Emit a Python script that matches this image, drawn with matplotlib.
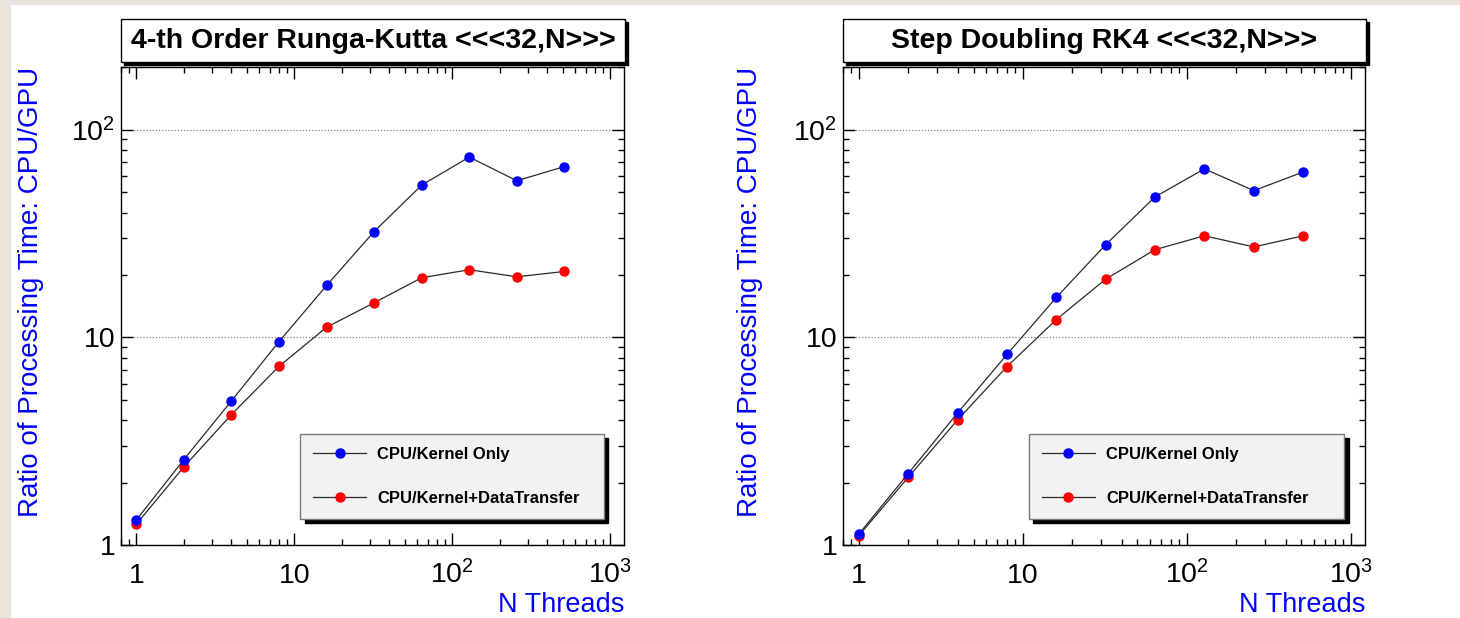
import matplotlib
matplotlib.use("Agg")
import matplotlib.pyplot as plt
from matplotlib.patches import Rectangle
from matplotlib.ticker import NullFormatter, LogLocator

plt.rcParams['font.family'] = ['Liberation Sans', 'DejaVu Sans']
plt.rcParams['mathtext.fontset'] = 'custom'
plt.rcParams['mathtext.rm'] = 'Liberation Sans'
plt.rcParams['mathtext.it'] = 'Liberation Sans:italic'

threads = [1, 2, 4, 8, 16, 32, 64, 128, 256, 512]
rk4_kernel = [1.32, 2.58, 4.95, 9.55, 17.8, 32.4, 54.2, 74.0, 56.9, 66.6]
rk4_transfer = [1.26, 2.38, 4.25, 7.26, 11.2, 14.7, 19.4, 21.2, 19.6, 20.8]
sd_kernel = [1.13, 2.21, 4.33, 8.28, 15.6, 28.0, 47.6, 64.9, 51.0, 62.7]
sd_transfer = [1.11, 2.12, 4.01, 7.24, 12.2, 19.1, 26.5, 30.9, 27.3, 30.9]

titles = ["4-th Order Runga-Kutta <<<32,N>>>", "Step Doubling RK4 <<<32,N>>>"]
series_names = ["CPU/Kernel Only", "CPU/Kernel+DataTransfer"]
xtick_vals = [1, 10, 100, 1000]
xtick_text = ['1', '10', r'$\mathregular{10^{2}}$', r'$\mathregular{10^{3}}$']
ytick_vals = [1, 10, 100]
ytick_text = ['1', '10', r'$\mathregular{10^{2}}$']

W, H = 1460, 618
fig = plt.figure(figsize=(W / 100, H / 100), dpi=100, facecolor='white')

# beige border strips
bg = '#e8e5df'
fig.patches.append(Rectangle((0, 0), 10 / W, 1, transform=fig.transFigure, color=bg, zorder=0))
fig.patches.append(Rectangle((0, 1 - 4 / H), 1, 4 / H, transform=fig.transFigure, color=bg, zorder=0))

# pixel boxes: (left, right) for axes; top/bottom shared
panels = [(121, 624), (843, 1365)]
ax_top, ax_bot = 67, 545
tbox_top, tbox_bot = 19, 62
data = [(rk4_kernel, rk4_transfer), (sd_kernel, sd_transfer)]

for (pl, pr), title, (kern, trans) in zip(panels, titles, data):
    ax = fig.add_axes([pl / W, (H - ax_bot) / H, (pr - pl) / W, (ax_bot - ax_top) / H])
    ax.set_xscale('log')
    ax.set_yscale('log')
    ax.set_xlim(0.8, 1220)
    ax.set_ylim(1, 201)

    ax.plot(threads, kern, '-o', color='#2a2a2a', lw=0.9, ms=6.5,
            mfc='#0000ff', mec='#0000ff', label=series_names[0], zorder=4)
    ax.plot(threads, trans, '-o', color='#2a2a2a', lw=0.9, ms=6.5,
            mfc='#ff0000', mec='#ff0000', label=series_names[1], zorder=3)

    ax.yaxis.grid(True, which='major', linestyle=(0, (1, 1.5)), color='#808080', lw=0.9)
    for s in ax.spines.values():
        s.set_linewidth(1.0)

    ax.xaxis.set_minor_locator(LogLocator(base=10, subs=range(2, 10)))
    ax.yaxis.set_minor_locator(LogLocator(base=10, subs=range(2, 10)))
    ax.xaxis.set_minor_formatter(NullFormatter())
    ax.yaxis.set_minor_formatter(NullFormatter())
    ax.tick_params(which='both', direction='in', top=True, right=True, width=1.0)
    ax.tick_params(which='major', length=8.5)
    ax.tick_params(which='minor', length=4.3)
    ax.tick_params(axis='x', which='major', labelsize=20.5, pad=27.4)
    ax.tick_params(axis='y', which='major', labelsize=20.5, pad=4)
    ax.set_xticks(xtick_vals)
    ax.set_xticklabels(xtick_text)
    ax.set_yticks(ytick_vals)
    ax.set_yticklabels(ytick_text)
    for lab in ax.get_xticklabels():
        lab.set_verticalalignment('baseline')

    ax.set_ylabel("Ratio of Processing Time: CPU/GPU", loc='top', color='#0000ff', fontsize=20)
    ax.yaxis.label.set_verticalalignment('center')
    ax.yaxis.set_label_coords(-0.179, 1.0)
    ax.set_xlabel("N Threads", loc='right', color='#0000ff', fontsize=19.5)
    ax.xaxis.label.set_verticalalignment('center')
    ax.xaxis.set_label_coords(1.0, -(605 - ax_bot) / (ax_bot - ax_top))

    leg = ax.legend(loc='lower left', bbox_to_anchor=(0.356, 0.0544, 0.604, 0.18),
                    mode='expand', borderaxespad=0, fancybox=False,
                    facecolor='#f2f2f2', edgecolor='#7a7a7a', framealpha=1,
                    prop={'family': 'Liberation Sans', 'weight': 'bold', 'size': 12},
                    borderpad=0.78, labelspacing=1.72, handlelength=3.2,
                    handletextpad=0.66, numpoints=1,
                    shadow={'ox': 3.2, 'oy': -3.0, 'color': 'black', 'alpha': 1})
    leg.get_frame().set_linewidth(1.0)

    # title box with shadow
    x0, x1 = pl / W, (pr + 1) / W
    y0, y1 = (H - tbox_bot) / H, (H - tbox_top) / H
    fig.patches.append(Rectangle((x0 + 3 / W, y0 - 3 / H), x1 - x0, y1 - y0,
                                 transform=fig.transFigure, facecolor='black',
                                 edgecolor='black', zorder=1))
    fig.patches.append(Rectangle((x0, y0), x1 - x0, y1 - y0, transform=fig.transFigure,
                                 facecolor='white', edgecolor='black', lw=1.0, zorder=2))
    fig.text((x0 + x1) / 2, (y0 + y1) / 2, title, ha='center', va='center',
             fontsize=20.5, fontweight='bold', zorder=3)

fig.savefig('out.png', dpi=100, facecolor=fig.get_facecolor())
